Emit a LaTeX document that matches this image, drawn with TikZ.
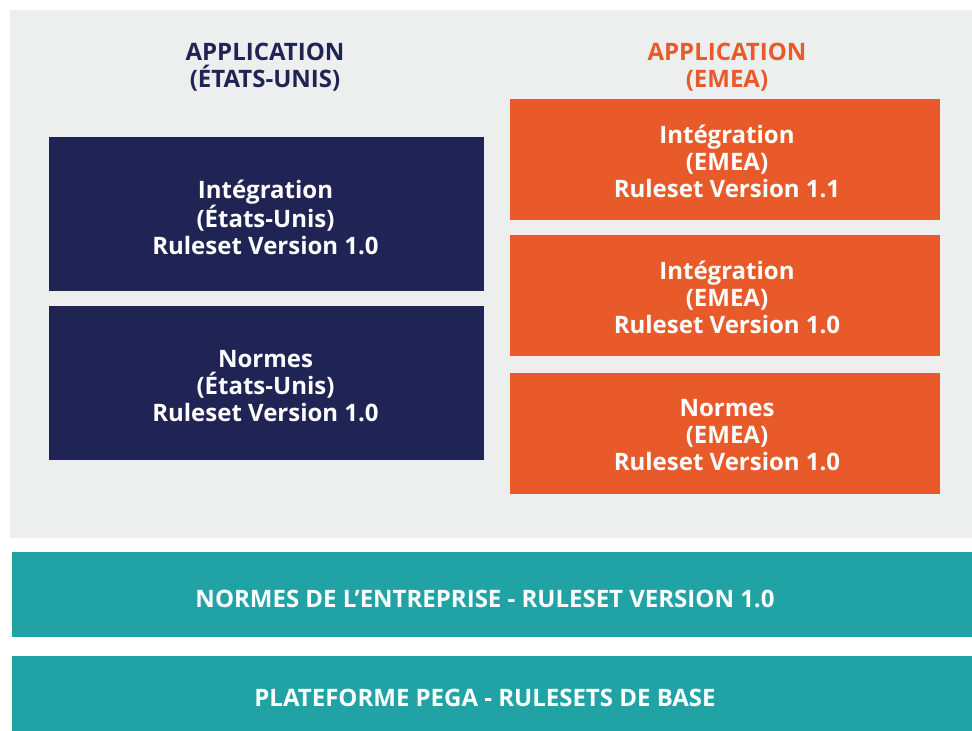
\documentclass[tikz,border=0pt]{standalone}
\usepackage{fontspec}
\setmainfont{Open Sans}
\usepackage{tikz}

\definecolor{navyblue}{HTML}{1F2454}
\definecolor{pegaorange}{HTML}{E95A2A}
\definecolor{pegateal}{HTML}{21A3A6}
\definecolor{panelgrey}{HTML}{EDEEEE}

\tikzset{
    boldtext/.style={align=center, font=\fontsize{24}{27}\selectfont\bfseries},
    boxtext/.style={boldtext, text=white},
    layer/.style={rectangle, inner sep=0pt},
    usbox/.style={layer, fill=navyblue, minimum width=435pt, minimum height=154pt,
        label={[boxtext, xshift=-1pt, yshift=-4pt]center:{#1}}},
    emeabox/.style={layer, fill=pegaorange, minimum width=430pt, minimum height=121pt,
        label={[boxtext, xshift=2pt, yshift=-2pt]center:{#1}}},
    basebar/.style={layer, fill=pegateal, minimum width=960pt,
        label={[boxtext, xshift=-7pt, yshift=-4pt]center:{#1}}}
}

\begin{document}
\begin{tikzpicture}[x=1pt, y=-1pt]
    \useasboundingbox (0,0) rectangle (972,731);

    % Background panel
    \fill[white] (0,0) rectangle (972,731);
    \fill[panelgrey] (10,10) rectangle (972,538);

    % Titles
    \node[boldtext, text=navyblue] (ustitle) at (265,67) {APPLICATION\\(ÉTATS-UNIS)};
    \node[boldtext, text=pegaorange] (emeatitle) at (727,67) {APPLICATION\\(EMEA)};

    % Application (Etats-Unis)
    \node[usbox={Intégration\\(États-Unis)\\Ruleset Version 1.0}] (usint) at (266.5,213.5) {};
    \node[usbox={Normes\\(États-Unis)\\Ruleset Version 1.0}] (usnorm) at (266.5,382.5) {};

    % Application (EMEA)
    \node[emeabox={Intégration\\(EMEA)\\Ruleset Version 1.1}] (emeaint11) at (725,159) {};
    \node[emeabox={Intégration\\(EMEA)\\Ruleset Version 1.0}] (emeaint10) at (725,295.5) {};
    \node[emeabox={Normes\\(EMEA)\\Ruleset Version 1.0}] (emeanorm) at (725,433) {};

    % Shared layers
    \node[basebar={NORMES DE L’ENTREPRISE - RULESET VERSION 1.0}, minimum height=85pt] (entreprise) at (492,594.5) {};
    \node[basebar={PLATEFORME PEGA - RULESETS DE BASE}, minimum height=75pt] (plateforme) at (492,693.5) {};
\end{tikzpicture}
\end{document}
